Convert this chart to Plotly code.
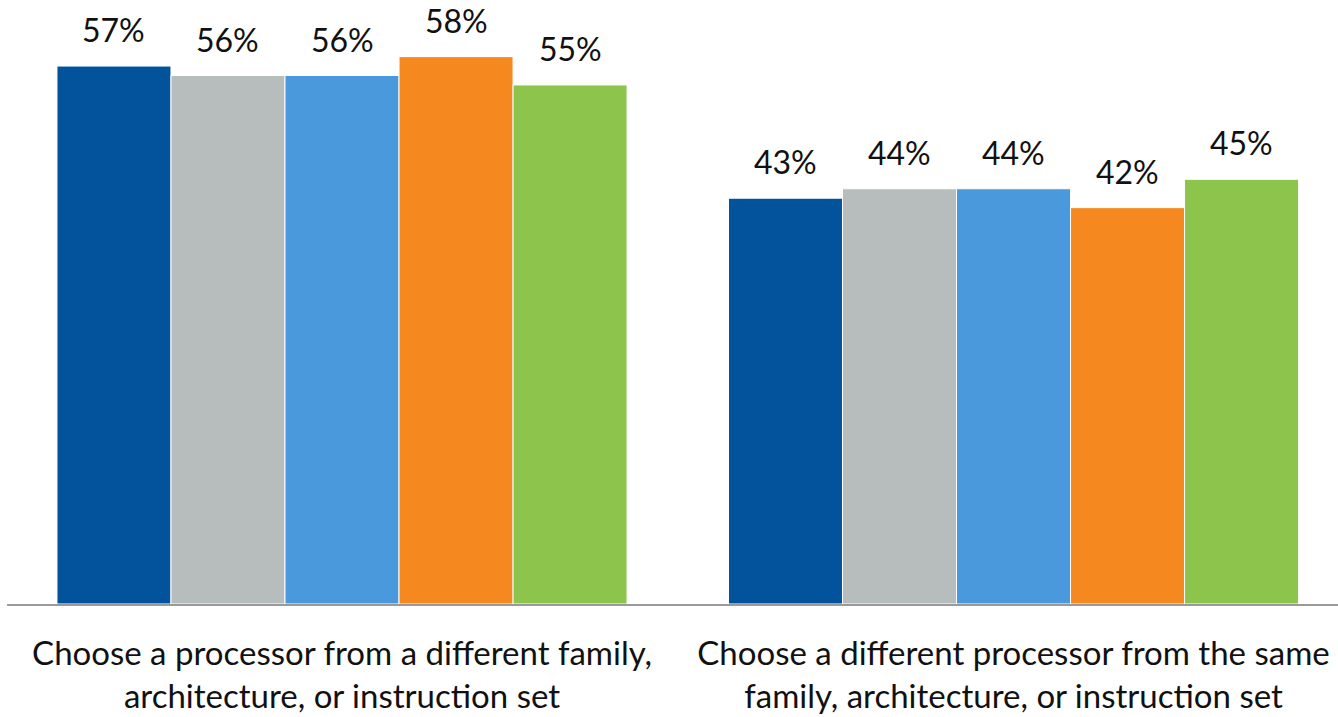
import plotly.graph_objects as go

# Categories and per-series shares (%)
categories = [
    "Choose a processor from a different family,<br>architecture, or instruction set",
    "Choose a different processor from the same<br>family, architecture, or instruction set",
]
series_names = ["Series 1", "Series 2", "Series 3", "Series 4", "Series 5"]
series_1 = [57, 43]
series_2 = [56, 44]
series_3 = [56, 44]
series_4 = [58, 42]
series_5 = [55, 45]
colors = ["#02529C", "#B7BDBC", "#4A99DD", "#F58920", "#8DC44B"]

all_series = [series_1, series_2, series_3, series_4, series_5]

FONT = "Lato"
BARGAP = 0.151
n = len(all_series)
bar_w = (1 - BARGAP) / n

fig = go.Figure()
for name, vals, col in zip(series_names, all_series, colors):
    fig.add_trace(go.Bar(
        name=name,
        x=categories,
        y=vals,
        marker=dict(color=col, line=dict(color="white", width=1)),
        hoverinfo="skip",
    ))

# Value labels above each bar
for j, vals in enumerate(all_series):
    for i, v in enumerate(vals):
        fig.add_annotation(
            x=i + (j - (n - 1) / 2) * bar_w,
            y=v,
            xref="x", yref="y",
            text=f"{v}%",
            showarrow=False,
            yanchor="bottom",
            yshift=15,
            font=dict(family=FONT, size=32, color="#111111"),
        )

fig.update_layout(
    width=1338,
    height=717,
    margin=dict(l=7, r=0, t=0, b=113),
    barmode="group",
    bargap=BARGAP,
    bargroupgap=0,
    plot_bgcolor="white",
    paper_bgcolor="white",
    showlegend=False,
    font=dict(family=FONT, color="#111111"),
)
fig.update_xaxes(
    type="category",
    range=[-0.4989, 1.4832],
    automargin=False,
    showline=True,
    linecolor="#9A9A9A",
    linewidth=2,
    ticks="",
    tickfont=dict(family=FONT, size=33, color="#111111"),
    ticklabelstandoff=19,
    showgrid=False,
)
fig.update_yaxes(
    range=[0, 64.0],
    visible=False,
    showgrid=False,
    automargin=False,
)

fig.write_html("out.html")
